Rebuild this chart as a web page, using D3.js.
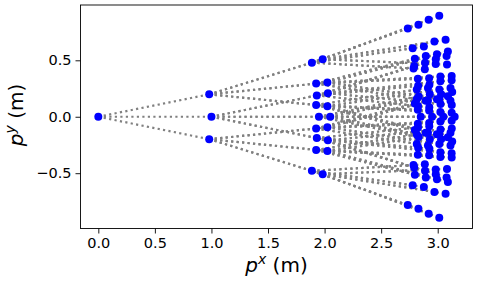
<!DOCTYPE html>
<html lang="en">
<head>
<meta charset="utf-8">
<style>
  body { margin: 0; background: #fff; }
  text { font-family: "DejaVu Sans", sans-serif; fill: #000; }
</style>
</head>
<body>
<svg id="chart" width="479" height="286"></svg>
<script src="https://cdn.jsdelivr.net/npm/d3@7"></script>
<script>
// tree nodes per level: [px, py, index of parent in previous level]
var level0 = [[0, 0, -1]];
var level1 = [[0.9801, 0.1987, 0], [1.0, 0.0, 0], [0.9801, -0.1987, 0]];
var level2 = [
  [1.8877, 0.4794, 0], [1.9832, 0.5090, 0], [1.9254, 0.2935, 0],
  [2.0249, 0.3035, 0], [1.9254, 0.1039, 0], [2.0249, 0.0939, 0],
  [1.9311, 0.1887, 1], [2.0291, 0.2086, 1], [1.95, 0.0, 1],
  [2.05, 0.0, 1], [1.9311, -0.1887, 1], [2.0291, -0.2086, 1],
  [1.9254, -0.1039, 2], [2.0249, -0.0939, 2], [1.9254, -0.2935, 2],
  [2.0249, -0.3035, 2], [1.8877, -0.4794, 2], [1.9832, -0.5090, 2]
];
var level3 = [
  [2.7354, 0.7817, 0], [2.8296, 0.8152, 0], [2.7786, 0.6072, 0], [2.8776, 0.6214, 0], [2.7862, 0.4277, 0], [2.8861, 0.4219, 0],
  [2.9200, 0.8589, 1], [3.0137, 0.8939, 1], [2.9708, 0.6659, 1], [3.0696, 0.6815, 1], [2.9823, 0.4665, 1], [3.0822, 0.4623, 1],
  [2.7980, 0.5140, 2], [2.8949, 0.5385, 2], [2.8244, 0.3362, 2], [2.9243, 0.3410, 2], [2.8150, 0.1568, 2], [2.9138, 0.1416, 2],
  [2.9932, 0.5533, 3], [3.0900, 0.5783, 3], [3.0235, 0.3560, 3], [3.1234, 0.3612, 3], [3.0140, 0.1565, 3], [3.1130, 0.1418, 3],
  [2.8150, 0.2406, 4], [2.9138, 0.2558, 4], [2.8244, 0.0612, 4], [2.9243, 0.0564, 4], [2.7980, -0.1166, 4], [2.8949, -0.1411, 4],
  [3.0140, 0.2409, 5], [3.1130, 0.2556, 5], [3.0235, 0.0414, 5], [3.1234, 0.0362, 5], [2.9932, -0.1559, 5], [3.0900, -0.1809, 5],
  [2.7922, 0.4504, 6], [2.8879, 0.4794, 6], [2.8270, 0.2741, 6], [2.9266, 0.2836, 6], [2.8261, 0.0944, 6], [2.9256, 0.0839, 6],
  [2.9830, 0.5089, 7], [3.0783, 0.5389, 7], [3.0236, 0.3134, 7], [3.1230, 0.3239, 7], [3.0246, 0.1137, 7], [3.1241, 0.1043, 7],
  [2.8321, 0.1788, 8], [2.9301, 0.1987, 8], [2.85, 0.0, 8], [2.95, 0.0, 8], [2.8321, -0.1788, 8], [2.9301, -0.1987, 8],
  [3.0301, 0.1987, 9], [3.1281, 0.2185, 9], [3.05, 0.0, 9], [3.15, 0.0, 9], [3.0301, -0.1987, 9], [3.1281, -0.2185, 9],
  [2.7922, -0.4504, 10], [2.8879, -0.4794, 10], [2.8270, -0.2741, 10], [2.9266, -0.2836, 10], [2.8261, -0.0944, 10], [2.9256, -0.0839, 10],
  [2.9830, -0.5089, 11], [3.0783, -0.5389, 11], [3.0236, -0.3134, 11], [3.1230, -0.3239, 11], [3.0246, -0.1137, 11], [3.1241, -0.1043, 11],
  [2.8150, -0.2406, 12], [2.9138, -0.2558, 12], [2.8244, -0.0612, 12], [2.9243, -0.0564, 12], [2.7980, 0.1166, 12], [2.8949, 0.1411, 12],
  [3.0140, -0.2409, 13], [3.1130, -0.2556, 13], [3.0235, -0.0414, 13], [3.1234, -0.0362, 13], [2.9932, 0.1559, 13], [3.0900, 0.1809, 13],
  [2.7980, -0.5140, 14], [2.8949, -0.5385, 14], [2.8244, -0.3362, 14], [2.9243, -0.3410, 14], [2.8150, -0.1568, 14], [2.9138, -0.1416, 14],
  [2.9932, -0.5533, 15], [3.0900, -0.5783, 15], [3.0235, -0.3560, 15], [3.1234, -0.3612, 15], [3.0140, -0.1565, 15], [3.1130, -0.1418, 15],
  [2.7354, -0.7817, 16], [2.8296, -0.8152, 16], [2.7786, -0.6072, 16], [2.8776, -0.6214, 16], [2.7862, -0.4277, 16], [2.8861, -0.4219, 16],
  [2.9200, -0.8589, 17], [3.0137, -0.8939, 17], [2.9708, -0.6659, 17], [3.0696, -0.6815, 17], [2.9823, -0.4665, 17], [3.0822, -0.4623, 17]
];
var xTicks = [0.0, 0.5, 1.0, 1.5, 2.0, 2.5, 3.0];
var yTicks = [-0.5, 0.0, 0.5];

var levels = [level0, level1, level2, level3];

var svg = d3.select("#chart");
var mLeft = 80.5, mRight = 472.5, mTop = 5, mBottom = 228.5;

var x = d3.scaleLinear().domain([-0.1575, 3.3075]).range([mLeft, mRight]);
var y = d3.scaleLinear().domain([-0.99, 0.99]).range([mBottom, mTop]);

// edges parent -> child
var edges = [];
for (var k = 1; k < levels.length; k++) {
  levels[k].forEach(function(n) {
    var p = levels[k - 1][n[2]];
    edges.push([p, n]);
  });
}

svg.append("g")
  .selectAll("line")
  .data(edges)
  .enter()
  .append("line")
  .attr("x1", function(d) { return x(d[0][0]); })
  .attr("y1", function(d) { return y(d[0][1]); })
  .attr("x2", function(d) { return x(d[1][0]); })
  .attr("y2", function(d) { return y(d[1][1]); })
  .attr("stroke", "#808080")
  .attr("stroke-width", 2.2)
  .attr("stroke-dasharray", "2.2 3.3");

var allNodes = [].concat(level0, level1, level2, level3);
svg.append("g")
  .selectAll("circle")
  .data(allNodes)
  .enter()
  .append("circle")
  .attr("cx", function(d) { return x(d[0]); })
  .attr("cy", function(d) { return y(d[1]); })
  .attr("r", 4)
  .attr("fill", "#0000ff");

// axes
var fmt = d3.format(".1f");
var gx = svg.append("g")
  .attr("transform", "translate(0," + mBottom + ")")
  .call(d3.axisBottom(x).tickValues(xTicks).tickFormat(fmt).tickSize(5).tickPadding(4.5));
var gy = svg.append("g")
  .attr("transform", "translate(" + mLeft + ",0)")
  .call(d3.axisLeft(y).tickValues(yTicks).tickFormat(fmt).tickSize(5).tickPadding(4));

[gx, gy].forEach(function(g) {
  g.select(".domain").remove();
  g.selectAll(".tick line").attr("stroke", "#000").attr("stroke-width", 0.9);
  g.selectAll(".tick text").attr("font-size", 14.5).attr("font-family", "DejaVu Sans").attr("fill", "#000");
});

svg.append("rect")
  .attr("x", mLeft).attr("y", mTop)
  .attr("width", mRight - mLeft).attr("height", mBottom - mTop)
  .attr("fill", "none").attr("stroke", "#000").attr("stroke-width", 0.9);

// axis labels
var xl = svg.append("text")
  .attr("x", (mLeft + mRight) / 2).attr("y", 272.4)
  .attr("text-anchor", "middle").attr("font-size", 20);
xl.append("tspan").attr("font-style", "italic").text("p");
xl.append("tspan").attr("font-style", "italic").attr("font-size", 14).attr("dy", -8).text("x");
xl.append("tspan").attr("dy", 8).text(" (m)");

var yl = svg.append("text")
  .attr("transform", "translate(23,115) rotate(-90)")
  .attr("text-anchor", "middle").attr("font-size", 20);
yl.append("tspan").attr("font-style", "italic").text("p");
yl.append("tspan").attr("font-style", "italic").attr("font-size", 14).attr("dy", -8).text("y");
yl.append("tspan").attr("dy", 8).text(" (m)");
</script>
</body>
</html>
